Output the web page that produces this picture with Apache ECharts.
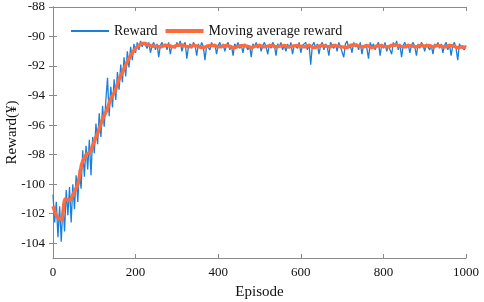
<!DOCTYPE html>
<html>
<head>
<meta charset="utf-8">
<script src="https://cdn.jsdelivr.net/npm/echarts@6/dist/echarts.min.js"></script>
<style>html,body{margin:0;padding:0;background:#fff}#c{width:484px;height:302px}</style>
</head>
<body>
<div id="c"></div>
<script>
// Reward, sampled every 4 episodes (0..1000)
var rewardStep = 4;
var reward = [
-100.7,-102.6,-101.2,-103.6,-101.5,-103.9,-101.3,-103.2,-100.4,-102.1,
-100.2,-102.6,-100.0,-101.7,-99.4,-101.2,-99.0,-100.3,-97.7,-99.5,
-97.4,-99.0,-97.0,-99.4,-96.8,-97.9,-95.9,-97.3,-95.2,-96.8,
-94.7,-96.1,-94.3,-92.8,-95.4,-93.4,-94.8,-92.9,-94.3,-92.4,
-93.6,-91.9,-93.1,-91.4,-92.7,-91.0,-92.1,-90.7,-91.6,-90.5,
-91.1,-90.4,-90.9,-90.3,-90.7,-90.4,
-90.5,-90.8,-90.4,-91.1,-90.6,-90.4,-90.9,-90.5,-91.4,-90.6,
-90.4,-90.7,-90.5,-90.9,-90.4,-91.2,-90.6,-90.5,-90.8,-90.4,
-90.7,-90.3,-91.0,-90.6,-90.4,-91.5,-90.7,-90.5,-90.8,-90.4,
-90.6,-91.3,-90.5,-90.8,-90.4,-90.7,-91.6,-90.6,-90.5,-90.9,
-90.4,-90.7,-90.5,-91.2,-90.6,-90.4,-90.8,-90.5,-91.0,-90.6,
-90.4,-90.9,-90.6,-91.3,-90.5,-90.7,-90.4,-90.8,-90.6,-91.1,
-90.5,-90.4,-90.9,-90.6,-91.4,-90.5,-90.7,-90.4,-90.8,-90.5,
-91.0,-90.6,-90.4,-90.7,-91.2,-90.5,-90.8,-90.4,-90.6,-91.3,
-90.5,-90.7,-90.4,-90.9,-90.6,-91.0,-90.5,-90.8,-90.4,-91.2,
-90.6,-90.5,-90.8,-90.4,-91.1,-90.6,-90.7,-90.4,-90.9,-90.5,
-91.9,-90.6,-90.4,-90.8,-90.5,-91.2,-90.6,-90.4,-90.9,-90.5,
-90.7,-91.3,-90.4,-90.6,-90.8,-90.5,-91.0,-90.4,-90.7,-90.6,
-91.4,-90.5,-90.3,-90.8,-90.6,-91.1,-90.4,-90.7,-90.5,-90.9,
-90.4,-91.2,-90.6,-90.5,-90.8,-91.5,-90.4,-90.7,-90.5,-90.9,
-90.6,-90.4,-91.3,-90.5,-90.8,-90.4,-91.0,-90.6,-90.5,-91.2,
-90.4,-90.7,-90.3,-90.9,-90.5,-91.4,-90.6,-90.4,-90.8,-90.5,
-91.1,-90.6,-90.4,-90.7,-91.3,-90.5,-90.8,-90.4,-90.6,-91.0,
-90.5,-90.4,-90.9,-90.6,-91.2,-90.5,-90.7,-90.4,-90.8,-90.5,
-91.1,-90.6,-90.4,-90.9,-90.5,-91.3,-90.6,-90.4,-90.8,-91.6,
-90.5,-90.7,-90.6,-90.9,-90.6
];
// Moving average reward, sampled every 10 episodes (0..1000)
var maStep = 10;
var movingAvg = [
-101.5,-102.2,-102.4,-101.0,-101.1,-100.6,-100.0,-98.6,-98.0,-97.8,
-97.1,-96.4,-95.6,-95.0,-94.2,-93.7,-92.9,-92.3,-91.7,-91.2,
-90.8,-90.55,-90.45,-90.55,-90.65,
-90.65,-90.7,-90.6,-90.6,-90.7,-90.6,-90.55,-90.65,-90.7,-90.6,
-90.65,-90.75,-90.7,-90.6,-90.6,-90.7,-90.65,-90.6,-90.7,-90.75,
-90.65,-90.6,-90.65,-90.75,-90.65,-90.6,-90.7,-90.65,-90.6,-90.7,
-90.65,-90.6,-90.7,-90.65,-90.6,-90.65,-90.7,-90.6,-90.75,-90.7,
-90.6,-90.65,-90.7,-90.6,-90.65,-90.7,-90.75,-90.6,-90.55,-90.65,
-90.7,-90.6,-90.75,-90.7,-90.6,-90.65,-90.7,-90.6,-90.55,-90.65,
-90.7,-90.6,-90.65,-90.7,-90.6,-90.65,-90.6,-90.7,-90.6,-90.65,
-90.7,-90.6,-90.65,-90.75,-90.7,-90.75
];
var xTicks = [0, 200, 400, 600, 800, 1000];
var yTicks = [-104, -102, -100, -98, -96, -94, -92, -90, -88];
var seriesNames = ['Reward', 'Moving average reward'];

var rewardData = reward.map(function (v, i) { return [i * rewardStep, v]; });
var maData = movingAvg.map(function (v, i) { return [i * maStep, v]; });

var font = 'Liberation Serif';
var axisColor = '#8a8a8a';
var blue = '#1a7fdc', orange = '#ff6a3d';
var labelStyle = { fontFamily: font, fontSize: 13, color: '#111' };
var chart = echarts.init(document.getElementById('c'));
chart.setOption({
  animation: false,
  backgroundColor: '#fff',
  textStyle: { fontFamily: font },
  grid: { left: 53, right: 18, top: 7, bottom: 44, containLabel: false, outerBoundsMode: 'none' },
  legend: {
    left: 66, top: 19, itemWidth: 38, itemHeight: 12, itemGap: 8,
    textStyle: { fontFamily: font, fontSize: 14, color: '#111' },
    data: [
      { name: seriesNames[0], icon: 'path://M0,0L38,0L38,0.01Z M0,5.1H38V6.9H0Z M0,12L38,12L38,11.99Z', itemStyle: { color: blue } },
      { name: seriesNames[1], icon: 'path://M0,0L38,0L38,0.01Z M0,4H38V8H0Z M0,12L38,12L38,11.99Z', itemStyle: { color: orange } }
    ]
  },
  xAxis: [{
    type: 'value', min: xTicks[0], max: xTicks[xTicks.length - 1], interval: 200,
    name: 'Episode', nameLocation: 'middle', nameGap: 27,
    nameTextStyle: { fontFamily: font, fontSize: 15, color: '#111' },
    axisLine: { lineStyle: { color: axisColor, width: 1 } },
    axisTick: { inside: true, length: 4, lineStyle: { color: axisColor } },
    axisLabel: {
      fontFamily: font, fontSize: 13, color: '#111', margin: 8,
      formatter: function (v) { return '{t|' + v + '}'; },
      rich: { t: labelStyle }
    },
    splitLine: { show: false }
  }, {
    type: 'value', position: 'top', min: xTicks[0], max: xTicks[xTicks.length - 1], interval: 200,
    axisLine: { show: true, lineStyle: { color: axisColor, width: 1 } },
    axisTick: { show: true, inside: true, length: 4, lineStyle: { color: axisColor } },
    axisLabel: { show: false }, splitLine: { show: false }
  }],
  yAxis: [{
    type: 'value', min: -105, max: -88,
    name: 'Reward(¥)', nameLocation: 'middle', nameGap: 33, nameMoveOverlap: false,
    nameTextStyle: { fontFamily: font, fontSize: 15, color: '#111' },
    axisLine: { show: true, lineStyle: { color: axisColor, width: 1 } },
    axisTick: { show: true, inside: true, length: 4, lineStyle: { color: axisColor }, customValues: yTicks },
    axisLabel: {
      fontFamily: font, fontSize: 13, color: '#111', margin: 8, customValues: yTicks,
      formatter: function (v) { return '{t|' + v + '}'; },
      rich: { t: labelStyle }
    },
    splitLine: { show: false }
  }, {
    type: 'value', position: 'right', min: -105, max: -88,
    axisLine: { show: true, lineStyle: { color: axisColor, width: 1 } },
    axisTick: { show: true, inside: true, length: 4, lineStyle: { color: axisColor }, customValues: yTicks },
    axisLabel: { show: false, customValues: yTicks }, splitLine: { show: false }
  }],
  series: [{
    name: seriesNames[0], type: 'line', data: rewardData,
    symbol: 'none', color: blue,
    lineStyle: { color: blue, width: 1.3 }, z: 2
  }, {
    name: seriesNames[1], type: 'line', data: maData,
    symbol: 'none', smooth: 0.3, color: orange,
    lineStyle: { color: orange, width: 3.5 }, z: 3
  }]
});
</script>
</body>
</html>
